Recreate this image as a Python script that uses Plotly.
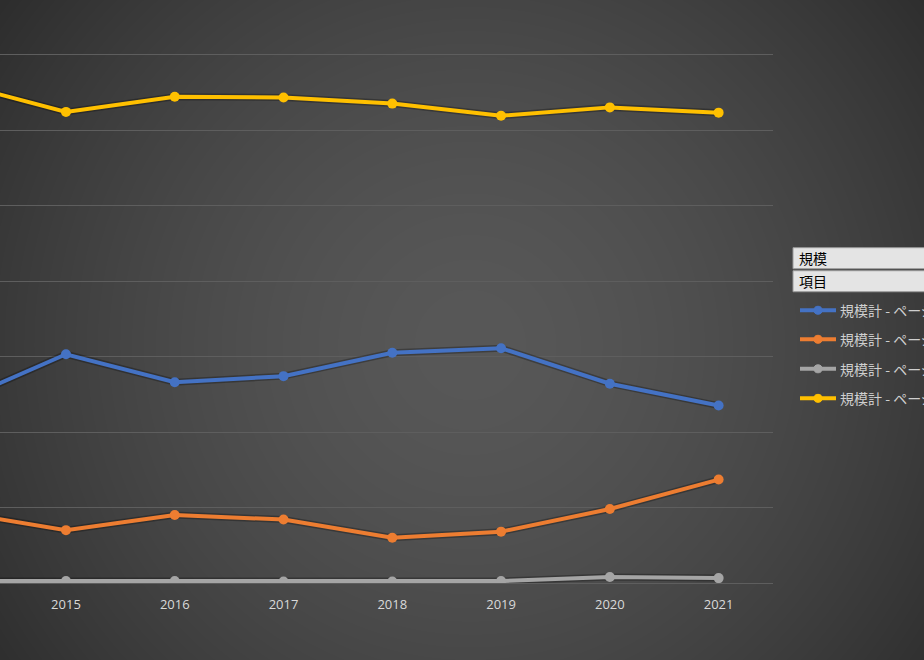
import base64, zlib, struct
import numpy as np
import plotly.graph_objects as go

# ---------------- data ----------------
years = [2014, 2015, 2016, 2017, 2018, 2019, 2020, 2021]
tick_years = [2015, 2016, 2017, 2018, 2019, 2020, 2021]
series_names = ["規模計 - ページビュー数", "規模計 - ページ訪問数",
                "規模計 - ページ滞在時間", "規模計 - ページ閲覧者数"]
blue_vals = [24.0, 30.3, 26.6, 27.4, 30.5, 31.1, 26.4, 23.5]
orange_vals = [9.4, 7.0, 9.0, 8.4, 6.0, 6.8, 9.8, 13.7]
gray_vals = [0.25, 0.25, 0.25, 0.2, 0.2, 0.25, 0.8, 0.65]
yellow_vals = [66.2, 62.4, 64.4, 64.3, 63.5, 61.9, 63.0, 62.3]
colors = ["#4472C4", "#ED7D31", "#A5A5A5", "#FFC000"]
header_labels = ["規模", "項目"]

W, H = 924, 660
YMAX = 70.6
PX_PER_UNIT = (583 - 55) / 70.0
PL, PR, PB = 0, 773, 583            # plot area in pixels
PT = PB - YMAX * PX_PER_UNIT


def xp(px):
    return (px - PL) / (PR - PL)


def yp(py):
    return (PB - py) / (PB - PT)


# ---------------- background gradient image ----------------
def gradient_png(w, h):
    yy, xx = np.mgrid[0:h, 0:w].astype(float)
    cx, cy = 470.0, 345.0
    d = np.sqrt((xx - cx) ** 2 + (yy - cy) ** 2) / 600.0
    d = np.clip(d, 0, 1)
    c0, c1 = 0x58, 0x2b
    v = c0 - (c0 - c1) * (d ** 1.6)
    v = v.astype(np.uint8)
    img = np.stack([v, v, v], axis=2)
    raw = b"".join(b"\x00" + img[r].tobytes() for r in range(h))

    def chunk(t, data):
        c = struct.pack(">I", len(data)) + t + data
        return c + struct.pack(">I", zlib.crc32(t + data) & 0xffffffff)

    png = b"\x89PNG\r\n\x1a\n"
    png += chunk(b"IHDR", struct.pack(">IIBBBBB", w, h, 8, 2, 0, 0, 0))
    png += chunk(b"IDAT", zlib.compress(raw, 9))
    png += chunk(b"IEND", b"")
    return "data:image/png;base64," + base64.b64encode(png).decode()


bg = gradient_png(W, H)

fig = go.Figure()
for name, vals, col in zip(series_names,
                           [blue_vals, orange_vals, gray_vals, yellow_vals],
                           colors):
    # soft drop shadow
    fig.add_trace(go.Scatter(
        x=years, y=vals, mode="lines",
        line=dict(color="rgba(0,0,0,0.28)", width=7),
        showlegend=False, hoverinfo="skip"))
    fig.add_trace(go.Scatter(
        x=years, y=vals, name=name, mode="lines+markers",
        line=dict(color=col, width=4),
        marker=dict(color=col, size=10),
        showlegend=False, hoverinfo="skip"))

shapes = []
annotations = []

# pivot field buttons
for i, lab in enumerate(header_labels):
    top = 248 + i * 23
    bot = top + 21
    shapes.append(dict(type="rect", xref="paper", yref="paper",
                       x0=xp(793), x1=xp(935), y0=yp(bot), y1=yp(top),
                       fillcolor="#e4e4e4", line=dict(color="#9a9a9a", width=1),
                       layer="above"))
    annotations.append(dict(xref="paper", yref="paper", x=xp(797),
                            y=yp((top + bot) / 2), text=lab, showarrow=False,
                            xanchor="left", yanchor="middle",
                            font=dict(family="Noto Sans CJK JP", size=14,
                                      color="#000000")))

# legend entries
leg_y = [310.5, 339.5, 369, 398.5]
for name, col, ly in zip(series_names, colors, leg_y):
    shapes.append(dict(type="line", xref="paper", yref="paper",
                       x0=xp(800), x1=xp(836), y0=yp(ly), y1=yp(ly),
                       line=dict(color=col, width=4), layer="above"))
    shapes.append(dict(type="circle", xref="paper", yref="paper",
                       x0=xp(814), x1=xp(822), y0=yp(ly + 4), y1=yp(ly - 4),
                       fillcolor=col, line=dict(color=col, width=1),
                       layer="above"))
    annotations.append(dict(xref="paper", yref="paper", x=xp(838), y=yp(ly),
                            text=name, showarrow=False, xanchor="left",
                            yanchor="middle",
                            font=dict(family="Noto Sans CJK JP", size=14,
                                      color="#cfcfcf")))

fig.update_layout(
    width=W, height=H,
    margin=dict(l=PL, r=W - PR, t=PT, b=H - PB, autoexpand=False),
    paper_bgcolor="#3a3a3a", plot_bgcolor="rgba(0,0,0,0)",
    images=[dict(source=bg, xref="paper", yref="paper", x=xp(0), y=yp(0),
                 sizex=xp(W) - xp(0), sizey=yp(0) - yp(H),
                 xanchor="left", yanchor="top", sizing="stretch",
                 layer="below")],
    shapes=shapes, annotations=annotations,
    xaxis=dict(range=[2015 - 66 / 108.83, 2021.5], tickvals=tick_years,
               ticktext=[str(y) for y in tick_years], showgrid=False,
               zeroline=False, showline=True, linecolor="#5e5e5e",
               linewidth=1, ticks="", ticklen=0, ticklabelstandoff=9,
               tickfont=dict(family="Open Sans", size=13, color="#d9d9d9")),
    yaxis=dict(range=[0, YMAX], dtick=10, showgrid=True, gridcolor="#5e5e5e",
               gridwidth=1, zeroline=False, showticklabels=False,
               showline=False),
)

fig.write_html("out.html", config={"displayModeBar": False},
               post_script="document.body.style.margin='0';"
                           "document.body.style.overflow='hidden';")
